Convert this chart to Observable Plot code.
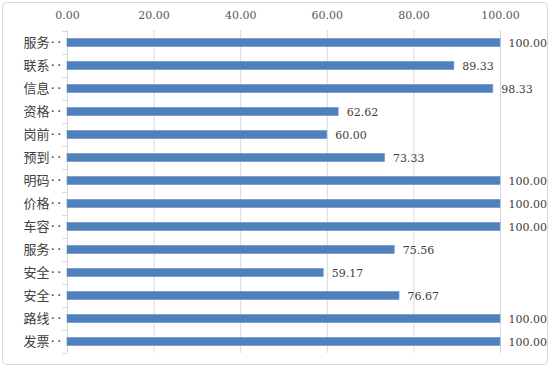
<!DOCTYPE html>
<html>
<head>
<meta charset="utf-8">
<script src="https://cdn.jsdelivr.net/npm/d3@7"></script>
<script src="https://cdn.jsdelivr.net/npm/@observablehq/plot@0.6"></script>
<style>
  html, body { margin: 0; padding: 0; background: #fff; }
  #chart { width: 550px; height: 367px; }
</style>
</head>
<body>
<div id="chart"></div>
<script>
const categories = ["服务‥", "联系‥", "信息‥", "资格‥", "岗前‥", "预到‥", "明码‥", "价格‥", "车容‥", "服务‥", "安全‥", "安全‥", "路线‥", "发票‥"];
const values = [100.00, 89.33, 98.33, 62.62, 60.00, 73.33, 100.00, 100.00, 100.00, 75.56, 59.17, 76.67, 100.00, 100.00];
const xTicks = [0, 20, 40, 60, 80, 100];

const rows = categories.map((c, i) => ({id: i, name: c, value: values[i]}));
const ids = rows.map(d => d.id);

const W = 550, H = 367, mt = 30, mb = 14, ml = 67, mr = 50;
const step = (H - mt - mb) / categories.length;
const numFont = "'DejaVu Serif', serif";
const cjkFont = "'Noto Sans CJK SC', sans-serif";

const plot = Plot.plot({
  width: W,
  height: H,
  marginTop: mt,
  marginBottom: mb,
  marginLeft: ml,
  marginRight: mr,
  style: {background: "transparent", fontFamily: numFont},
  x: {domain: [0, 100], axis: null},
  y: {domain: ids, padding: 0, axis: null},
  marks: [
    Plot.gridX(xTicks, {stroke: "#d9d9d9", strokeOpacity: 1}),
    Plot.ruleX([0], {stroke: "#d9d9d9"}),
    Plot.ruleY(ids, {y: d => d, x1: -1.15, x2: 0, dy: -step / 2, stroke: "#d9d9d9"}),
    Plot.ruleY([ids[ids.length - 1]], {y: d => d, x1: -1.15, x2: 0, dy: step / 2, stroke: "#d9d9d9"}),
    Plot.axisX(xTicks, {anchor: "top", label: null, tickSize: 0, tickPadding: 12, tickFormat: d => d.toFixed(2), fontSize: 11, fill: "#595959", fontFamily: numFont}),
    Plot.axisY(ids, {anchor: "left", label: null, tickSize: 0, tickPadding: 5, tickFormat: i => categories[i], fontSize: 13, fill: "#404040", fontFamily: cjkFont}),
    Plot.barX(rows, {x: "value", y: "id", fill: "#4f81bd", stroke: "#6a94c8", strokeWidth: 0.7, insetTop: (step - 8) / 2, insetBottom: (step - 8) / 2}),
    Plot.text(rows, {x: "value", y: "id", text: d => d.value.toFixed(2), textAnchor: "start", dx: 8, fontSize: 11, fill: "#404040", fontFamily: numFont})
  ]
});

const svg = d3.select(plot);
svg.insert("rect", ":first-child")
  .attr("x", 2.5).attr("y", 2.5)
  .attr("width", W - 5).attr("height", H - 5)
  .attr("rx", 4)
  .attr("fill", "#fff")
  .attr("stroke", "#d9d9d9");

document.getElementById("chart").appendChild(plot);
</script>
</body>
</html>
